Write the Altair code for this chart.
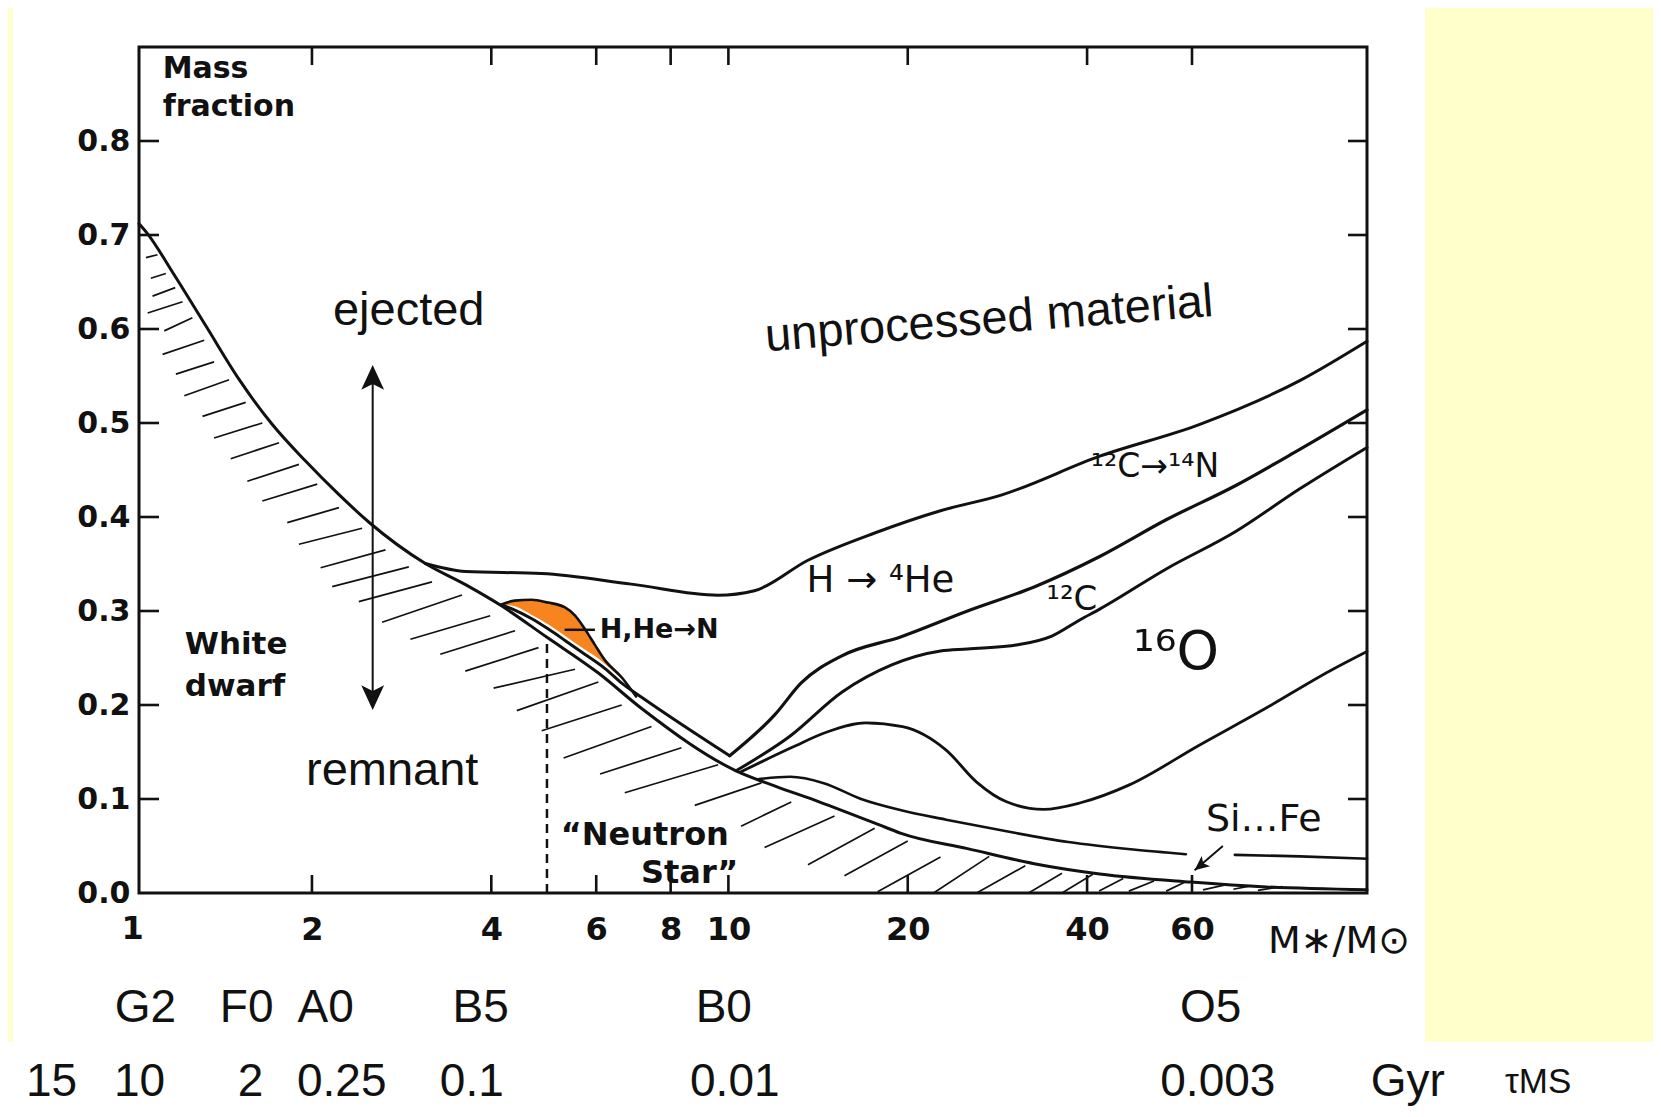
import altair as alt
import pandas as pd

# ---------------- data ----------------
# x = stellar mass M*/Msun (log axis), y = mass fraction
remnant_m = [1.025, 1.059, 1.167, 1.327, 1.509, 1.716, 1.951, 2.218, 2.493, 3.10, 3.62, 4.16, 4.96, 6.05, 7.16,
             10.3, 11.98, 14.2, 18.3, 19.5, 25.2, 32.6, 42.0, 59.7, 80.0, 118.0]
remnant_v = [0.712, 0.7015, 0.6604, 0.6034, 0.5464, 0.4984, 0.4595, 0.424, 0.3944, 0.3505, 0.328, 0.3055, 0.272,
             0.234, 0.196, 0.130, 0.1137, 0.097, 0.0702, 0.0634, 0.0472, 0.0312, 0.0203, 0.0117, 0.0065, 0.0034]

he_m = [3.10, 3.62, 4.86, 6.87, 9.6, 11.06, 13.6, 17.6, 22.7, 28.7, 42.0, 62.0, 91.0, 118.0]
he_v = [0.3505, 0.342, 0.3398, 0.3286, 0.3168, 0.3216, 0.354, 0.383, 0.4067, 0.4233, 0.4647, 0.4989, 0.5451, 0.587]

# upper boundary of the H,He->N shell down to the V at ~10 Msun, then the 14N / 12C boundary
n_m = [4.16, 4.38, 4.67, 4.98, 5.31, 5.74, 6.20, 6.63, 7.16, 10.05, 11.98, 13.25, 15.5, 19.5, 25.2, 32.6,
       42.0, 54.4, 70.8, 91.0, 118.0]
n_v = [0.3065, 0.301, 0.292, 0.281, 0.269, 0.254, 0.239, 0.223, 0.208, 0.146, 0.190, 0.2235, 0.2523, 0.2726,
       0.300, 0.3256, 0.358, 0.3973, 0.433, 0.472, 0.514]
n_split = 9  # index of the V

c_m = [10.3, 12.7, 15.5, 18.8, 22.7, 25.2, 30.6, 34.9, 39.0, 42.0, 54.4, 70.8, 91.0, 118.0]
c_v = [0.130, 0.167, 0.2135, 0.2426, 0.2574, 0.2596, 0.264, 0.2733, 0.291, 0.302, 0.345, 0.384, 0.430, 0.474]

o_m = [10.5, 12.8, 14.6, 17.0, 19.6, 23.2, 26.1, 29.3, 33.8, 39.0, 47.1, 61.6, 79.5, 102.0, 118.0]
o_v = [0.129, 0.155, 0.171, 0.181, 0.177, 0.152, 0.118, 0.097, 0.089, 0.096, 0.115, 0.157, 0.196, 0.236, 0.257]

sife1_m = [11.2, 12.7, 14.46, 16.7, 19.5, 23.2, 29.3, 37.2, 47.8, 58.6]
sife1_v = [0.121, 0.1236, 0.1168, 0.100, 0.088, 0.078, 0.0656, 0.0542, 0.0462, 0.0413]
sife2_m = [70.8, 91.0, 118.0]
sife2_v = [0.0406, 0.039, 0.0365]

orange_m = [4.16, 4.38, 4.67, 4.98, 5.31, 5.53, 5.74, 5.97, 6.20, 6.63, 7.00]
orange_top = [0.307, 0.311, 0.312, 0.309, 0.304, 0.295, 0.281, 0.264, 0.248, 0.229, 0.209]
orange_bot = [0.307, 0.305, 0.296, 0.286, 0.274, 0.266, 0.259, 0.252, 0.244, 0.227, 0.209]

# hatch strokes: (m1, v1, m2, v2)
hatch = [
    (1.053, 0.676, 1.101, 0.679),
    (1.073, 0.654, 1.137, 0.659), (1.080, 0.635, 1.179, 0.644), (1.060, 0.617, 1.213, 0.629),
    (1.130, 0.598, 1.260, 0.612),
    (1.123, 0.573, 1.319, 0.588), (1.182, 0.552, 1.370, 0.565), (1.221, 0.529, 1.452, 0.546),
    (1.310, 0.507, 1.548, 0.522), (1.370, 0.484, 1.651, 0.500), (1.461, 0.462, 1.761, 0.479),
    (1.558, 0.438, 1.902, 0.456), (1.651, 0.417, 2.041, 0.435), (1.818, 0.394, 2.220, 0.410),
    (1.902, 0.371, 2.428, 0.388), (2.068, 0.346, 2.657, 0.365), (2.163, 0.326, 2.908, 0.347),
    (2.397, 0.310, 3.181, 0.331), (2.623, 0.288, 3.571, 0.317), (2.926, 0.270, 3.983, 0.295),
    (3.284, 0.254, 4.385, 0.279), (3.617, 0.236, 4.800, 0.261), (4.036, 0.218, 5.528, 0.238),
    (4.415, 0.194, 6.05, 0.2244), (4.86, 0.1726, 6.62, 0.200), (5.29, 0.1436, 7.43, 0.1771),
    (6.09, 0.1266, 8.34, 0.1545), (6.70, 0.1066, 9.61, 0.1364), (8.78, 0.0932, 11.36, 0.1171),
    (10.5, 0.0711, 12.75, 0.0969), (11.5, 0.0485, 15.07, 0.0819), (13.6, 0.030, 17.6, 0.0688),
    (15.66, 0.0183, 20.0, 0.0554), (17.8, 0.0014, 22.7, 0.0382), (22.1, 0.0, 27.4, 0.039),
    (26.1, 0.0, 31.5, 0.029), (31.9, 0.0, 36.3, 0.021), (36.3, 0.0, 40.9, 0.020),
    (41.9, 0.002, 46.0, 0.0155), (47.0, 0.002, 51.8, 0.0127), (54.3, 0.002, 58.3, 0.0115),
    (62.6, 0.0034, 68.8, 0.0091), (70.4, 0.004, 75.6, 0.0079), (77.4, 0.0028, 85.1, 0.0068),
]

x_tick_values = [2, 4, 6, 8, 10, 20, 40, 60]
x_first_label = "1"
x_first_mass = 1.0
x_frame_ticks = [2, 4, 6, 8, 10, 20, 40, 60]
y_tick_values = [0.0, 0.1, 0.2, 0.3, 0.4, 0.5, 0.6, 0.7, 0.8]
y_frame_ticks = [0.1, 0.2, 0.3, 0.4, 0.5, 0.6, 0.7, 0.8]

neutron_mass = 4.96
neutron_top = 0.272

spectral_types = ["G2", "F0", "A0", "B5", "B0", "O5"]
spectral_mass = [1.051, 1.554, 2.109, 3.840, 9.824, 64.5]
lifetimes = ["15", "10", "2", "0.25", "0.1", "0.01", "0.003", "Gyr"]
lifetime_mass = [0.731, 1.027, 1.578, 2.244, 3.709, 10.25, 66.3, 138.2]
row_spectral_v = -0.1223
row_lifetime_v = -0.2011

# ---------------- chart ----------------
W, H = 1228, 846
xs = alt.Scale(type="log", domain=[1.025, 118], nice=False)
ys = alt.Scale(domain=[0, 0.9], nice=False, zero=False)
INK = "#111111"
SCAN = "DejaVu Sans"
SANS = "Liberation Sans"

x_axis = alt.Axis(values=x_tick_values, format="~g", title=None, domain=False, ticks=False, grid=False,
                  labelFont=SCAN, labelFontWeight="bold", labelFontSize=32, labelPadding=21,
                  labelColor=INK, labelFlush=False, labelOverlap=False, labelBound=False, zindex=2)
y_axis = alt.Axis(values=y_tick_values, format=".1f", title=None, domain=False, ticks=False, grid=False,
                  labelFont=SCAN, labelFontWeight="bold", labelFontSize=30, labelPadding=9,
                  labelColor=INK, labelFlush=False, labelOverlap=False, labelBound=False, zindex=2)


def X(f):
    return alt.X(f + ":Q", scale=xs, axis=x_axis)


def Y(f):
    return alt.Y(f + ":Q", scale=ys, axis=y_axis)


def line_layer(ms, vs, width=3.0, interp="monotone"):
    df = pd.DataFrame({"m": ms, "v": vs})
    return alt.Chart(df).mark_line(color=INK, strokeWidth=width, interpolate=interp,
                                   strokeJoin="round", strokeCap="round").encode(x=X("m"), y=Y("v"))


def text_layer(texts, ms, vs, font, size, weight="normal", align="center", baseline="middle", angle=0):
    df = pd.DataFrame({"t": texts, "m": ms, "v": vs})
    return alt.Chart(df).mark_text(font=font, fontSize=size, fontWeight=weight, align=align,
                                   baseline=baseline, angle=angle, color=INK).encode(
        x=X("m"), y=Y("v"), text="t:N")


one = pd.DataFrame({"k": [0]})

# white paper panels of the scanned figure
panel_top = alt.Chart(one).mark_rect(color="white").encode(
    x=alt.value(-126), x2=alt.value(1286), y=alt.value(-43), y2=alt.value(995))
panel_bottom = alt.Chart(one).mark_rect(color="white").encode(
    x=alt.value(-134), x2=alt.value(1522), y=alt.value(995), y2=alt.value(1075))

# plot frame
frame = alt.Chart(one).mark_rect(filled=False, stroke=INK, strokeWidth=3).encode(
    x=alt.value(0), x2=alt.value(W), y=alt.value(0), y2=alt.value(H))

orange = alt.Chart(pd.DataFrame({"m": orange_m, "top": orange_top, "bot": orange_bot})).mark_area(
    color="#F7841F", interpolate="monotone").encode(x=X("m"), y=Y("top"), y2="bot:Q")

hatch_df = pd.DataFrame(hatch, columns=["m1", "v1", "m2", "v2"])
hatches = alt.Chart(hatch_df).mark_rule(color=INK, strokeWidth=1.7).encode(
    x=X("m1"), y=Y("v1"), x2="m2:Q", y2="v2:Q")

dashed = alt.Chart(pd.DataFrame({"m": [neutron_mass], "a": [0.0], "b": [neutron_top]})).mark_rule(
    color=INK, strokeWidth=2.5, strokeDash=[9, 6]).encode(x=X("m"), y=Y("a"), y2="b:Q")

curves = [
    line_layer(remnant_m, remnant_v, 3.0),
    line_layer(he_m, he_v, 3.0),
    line_layer(n_m[:n_split + 1], n_v[:n_split + 1], 3.0),
    line_layer(n_m[n_split:], n_v[n_split:], 3.2),
    line_layer(c_m, c_v, 3.0),
    line_layer(o_m, o_v, 2.8),
    line_layer(sife1_m, sife1_v, 2.6),
    line_layer(sife2_m, sife2_v, 2.6),
    line_layer(orange_m, orange_top, 2.6),
]

# leader line for H,He -> N
leader = alt.Chart(pd.DataFrame({"m": [5.31], "m2": [5.97], "v": [0.28]})).mark_rule(
    color=INK, strokeWidth=2.5).encode(x=X("m"), x2="m2:Q", y=Y("v"))

# double arrow ejected / remnant
arrow_shaft = alt.Chart(pd.DataFrame({"m": [2.529], "a": [0.555], "b": [0.201]})).mark_rule(
    color=INK, strokeWidth=2).encode(x=X("m"), y=Y("a"), y2="b:Q")
head_path = "M0,0L-0.6,1.3L0,1.0L0.6,1.3Z"
arrow_heads = alt.Chart(pd.DataFrame({"m": [2.529, 2.529], "v": [0.5617, 0.1947], "a": [0, 180]})).mark_point(
    shape=head_path, filled=True, size=1450, color=INK, opacity=1).encode(
    x=X("m"), y=Y("v"), angle=alt.Angle("a:Q", scale=None))

# Si...Fe arrow
sife_shaft = alt.Chart(pd.DataFrame({"m": [67.6], "v": [0.0499], "m2": [60.6], "v2": [0.0242]})).mark_rule(
    color=INK, strokeWidth=2).encode(x=X("m"), y=Y("v"), x2="m2:Q", y2="v2:Q")
sife_head = alt.Chart(pd.DataFrame({"m": [60.6], "v": [0.0242], "a": [231]})).mark_point(
    shape=head_path, filled=True, size=500, color=INK, opacity=1).encode(
    x=X("m"), y=Y("v"), angle=alt.Angle("a:Q", scale=None))

# inward frame ticks
left_ticks = alt.Chart(pd.DataFrame({"v": y_frame_ticks})).mark_rule(color=INK, strokeWidth=2.6).encode(
    y=Y("v"), x=alt.value(0), x2=alt.value(20))
right_ticks = alt.Chart(pd.DataFrame({"v": y_frame_ticks})).mark_rule(color=INK, strokeWidth=2.6).encode(
    y=Y("v"), x=alt.value(W - 19), x2=alt.value(W))
top_ticks = alt.Chart(pd.DataFrame({"m": x_frame_ticks})).mark_rule(color=INK, strokeWidth=2.6).encode(
    x=X("m"), y=alt.value(0), y2=alt.value(18))
bottom_ticks = alt.Chart(pd.DataFrame({"m": x_frame_ticks})).mark_rule(color=INK, strokeWidth=2.6).encode(
    x=X("m"), y=alt.value(H - 18), y2=alt.value(H))

# the "1" tick label lies just left of the frame (outside the scale domain)
first_label = alt.Chart(pd.DataFrame({"t": [x_first_label], "m": [x_first_mass], "v": [0.0]})).mark_text(
    font=SCAN, fontSize=32, fontWeight="bold", align="center", baseline="top", dy=21, color=INK).encode(
    x=X("m"), y=Y("v"), text="t:N")

texts = [
    text_layer(["Mass", "fraction"], [1.123, 1.123], [0.877, 0.836], SCAN, 30, "bold", "left"),
    text_layer(["White", "dwarf"], [1.223, 1.223], [0.2637, 0.2192], SCAN, 31, "bold", "left"),
    text_layer(["\u201cNeutron", "Star\u201d"], [7.24, 8.61], [0.0622, 0.0218], SCAN, 32, "bold"),
    text_layer(["H,He\u2192N"], [6.08], [0.28], SCAN, 27, "bold", "left"),
    text_layer(["H \u2192 \u2074He"], [18.0], [0.332], SCAN, 37),
    text_layer(["\u00b9\u00b2C\u2192\u00b9\u2074N"], [52.0], [0.453], SCAN, 33),
    text_layer(["\u00b9\u00b2C"], [37.7], [0.3117], SCAN, 34),
    text_layer(["\u00b9\u2076O"], [56.4], [0.2556], SCAN, 54),
    text_layer(["Si\u2026Fe"], [79.2], [0.0773], SCAN, 38),
    text_layer(["M\u2217/M\u2299"], [105.9], [-0.052], SCAN, 38),
    text_layer(["ejected"], [2.907], [0.604], SANS, 47, baseline="alphabetic"),
    text_layer(["remnant"], [2.727], [0.115], SANS, 47, baseline="alphabetic"),
    text_layer(["unprocessed material"], [27.4], [0.61], SANS, 47, angle=355.5),
    text_layer(spectral_types, spectral_mass, [row_spectral_v] * len(spectral_types), SANS, 46),
    text_layer(lifetimes, lifetime_mass, [row_lifetime_v] * len(lifetimes), SANS, 46),
    text_layer(["\u03c4MS"], [228.6], [row_lifetime_v], SANS, 35),
]

chart = alt.layer(
    panel_top, panel_bottom, orange, hatches, dashed, *curves, leader, arrow_shaft, arrow_heads,
    sife_shaft, sife_head, left_ticks, right_ticks, top_ticks, bottom_ticks, frame, first_label, *texts
).properties(
    width=W, height=H,
    padding={"left": 131, "top": 39, "right": 286, "bottom": 224},
    autosize=alt.AutoSizeParams(type="none"),
).configure(background="#FFFFCC").configure_view(stroke=INK, strokeWidth=3, fill="white")

chart.save("out.html", embed_options={"renderer": "svg", "actions": False})
